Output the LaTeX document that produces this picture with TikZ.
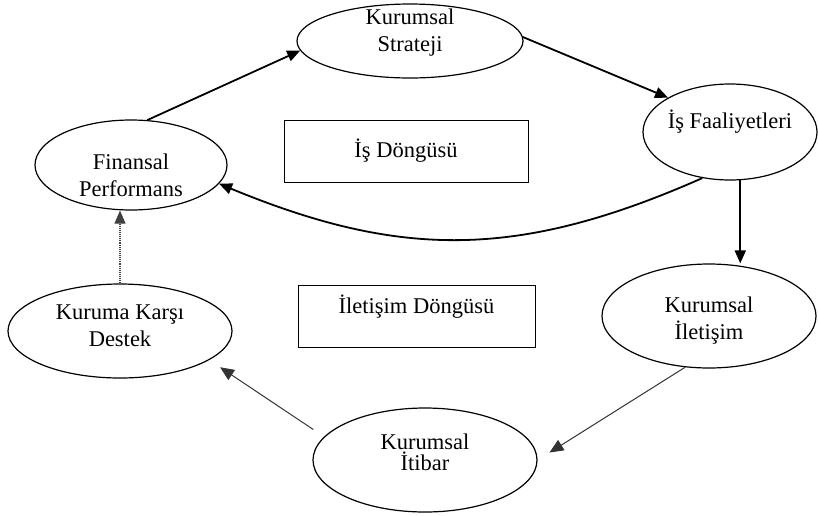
\documentclass[tikz,border=0pt]{standalone}
\usepackage{fontspec}
\setmainfont{Liberation Serif}
\usetikzlibrary{shapes.geometric,arrows.meta}
\begin{document}
\begin{tikzpicture}[x=1pt,y=-1pt,
  oval/.style={draw, ellipse, line width=1.2pt, inner sep=0pt},
  lbl/.style={font=\fontsize{22.5}{27}\selectfont, align=center, inner sep=0pt},
  box/.style={draw, line width=1pt, inner sep=0pt, font=\fontsize{22.5}{27}\selectfont},
  thickarrow/.style={line width=1.8pt, -{Triangle[length=13pt,width=11pt]}},
  thinarrow/.style={line width=1pt, draw=black!80, -{Triangle[length=14pt,width=12pt]}},
  dotarrow/.style={line width=1.1pt, draw=black!75, densely dotted, -{Triangle[length=13pt,width=11pt]}},
]
\useasboundingbox (0,0) rectangle (818,515);

\node[oval, minimum width=226pt, minimum height=74pt,
  label={[lbl,yshift=8pt]center:Kurumsal\\Strateji}] (str) at (410,41) {};
\node[oval, minimum width=192pt, minimum height=90pt,
  label={[lbl,yshift=-10pt]center:Finansal\\Performans}] (fin) at (131,165) {};
\node[oval, minimum width=174pt, minimum height=96pt,
  label={[lbl,yshift=10pt]center:İş Faaliyetleri}] (is) at (730,132) {};
\node[oval, minimum width=214pt, minimum height=104pt,
  label={[lbl,yshift=-5pt]center:Kurumsal\\İletişim}] (ilet) at (709,316) {};
\node[oval, minimum width=224pt, minimum height=94pt,
  label={[lbl,yshift=5pt]center:Kuruma Karşı\\Destek}] (des) at (120,331) {};
\node[oval, minimum width=224pt, minimum height=104pt,
  label={[lbl,yshift=8pt,font=\fontsize{22.5}{21}\selectfont]center:Kurumsal\\İtibar}] (itb) at (425,460) {};

\node[box, minimum width=244pt, minimum height=62pt] (isd) at (406,151) {İş Döngüsü};
\node[box, minimum width=237pt, minimum height=62pt,
  label={[lbl,yshift=9pt]center:İletişim Döngüsü}] (ild) at (416.5,316) {};

\draw[thickarrow] (fin.70) -- (str.185);
\draw[thickarrow] (str.2) -- (is.151);
\draw[thickarrow] (is.239) .. controls (519,259) and (401,259) .. (fin.348.6);
\draw[thickarrow] (is.282) -- (is.282 |- ilet.north);
\draw[thinarrow, shorten >=14pt] (ilet.245) -- (itb.east);
\draw[thinarrow, shorten <=13pt, shorten >=13pt] (itb.167) -- (des.-18);
\draw[dotarrow] (des.north) -- (des.north |- fin.south);
\end{tikzpicture}
\end{document}
